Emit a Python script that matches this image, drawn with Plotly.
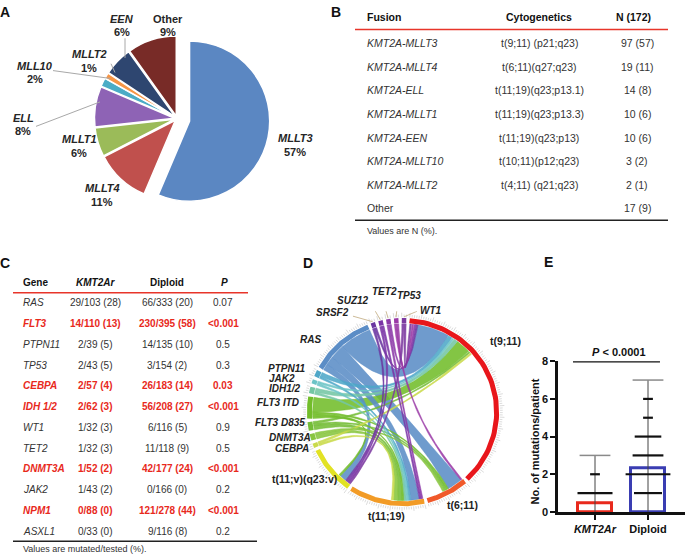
import numpy as np
import plotly.graph_objects as go

W, H = 685, 560
FONT = "Liberation Sans, Arial, Helvetica, sans-serif"

# ---------------- A: fusion partners ----------------
pie_labels = ["MLLT3", "MLLT4", "MLLT1", "ELL", "MLL10", "MLLT2", "EEN", "Other"]
pie_counts = [97, 19, 10, 14, 3, 2, 10, 17]
pie_pct = [57, 11, 6, 8, 2, 1, 6, 9]

# ---------------- B: fusion table ----------------
fusion_names = ["KMT2A-MLLT3", "KMT2A-MLLT4", "KMT2A-ELL", "KMT2A-MLLT1",
                "KMT2A-EEN", "KMT2A-MLLT10", "KMT2A-MLLT2", "Other"]
fusion_cyto = ["t(9;11) (p21;q23)", "t(6;11)(q27;q23)", "t(11;19)(q23;p13.1)",
               "t(11;19)(q23;p13.3)", "t(11;19)(q23;p13)", "t(10;11)(p12;q23)",
               "t(4;11) (q21;q23)", ""]
fusion_n = [97, 19, 14, 10, 10, 3, 2, 17]
fusion_pct = [57, 11, 8, 6, 6, 2, 1, 9]

# ---------------- C: mutation table ----------------
genes = ["RAS", "FLT3", "PTPN11", "TP53", "CEBPA", "IDH 1/2", "WT1", "TET2",
         "DNMT3A", "JAK2", "NPM1", "ASXL1"]
kmt_mut = [29, 14, 2, 2, 2, 2, 1, 1, 1, 1, 0, 0]
kmt_tested = [103, 110, 39, 43, 57, 62, 32, 32, 52, 43, 88, 33]
kmt_pct = [28, 13, 5, 5, 4, 3, 3, 3, 2, 2, 0, 0]
dip_mut = [66, 230, 14, 3, 26, 56, 6, 11, 42, 0, 121, 9]
dip_tested = [333, 395, 135, 154, 183, 208, 116, 118, 177, 166, 278, 116]
dip_pct = [20, 58, 10, 2, 14, 27, 5, 9, 24, 0, 44, 8]
p_values = ["0.07", "<0.001", "0.5", "0.3", "0.03", "<0.001", "0.9", "0.5",
            "<0.001", "0.2", "<0.001", "0.2"]

# ---------------- D: chord diagram ----------------
sector_names = ["t(9;11)", "t(6;11)", "t(11;19)", "t(11;v)(q23:v)",
                "CEBPA", "DNMT3A", "FLT3 D835", "FLT3 ITD", "IDH1/2", "JAK2",
                "PTPN11", "RAS", "SRSF2", "SUZ12", "TET2", "TP53", "WT1"]
sector_sizes = [97, 19, 34, 22, 2, 3, 4, 10, 3, 2, 3, 29, 2, 2, 2, 2, 2]
chord_mut = ["RAS", "RAS", "RAS", "RAS",
             "FLT3 ITD", "FLT3 ITD", "FLT3 ITD", "FLT3 ITD",
             "FLT3 D835", "FLT3 D835", "FLT3 D835",
             "IDH1/2", "IDH1/2", "PTPN11", "PTPN11", "JAK2", "JAK2",
             "CEBPA", "CEBPA", "DNMT3A", "DNMT3A",
             "SRSF2", "SRSF2", "SUZ12", "SUZ12", "TET2", "TET2",
             "TP53", "TP53", "WT1", "WT1"]
chord_cyto = ["t(9;11)", "t(6;11)", "t(11;19)", "t(11;v)(q23:v)",
              "t(9;11)", "t(6;11)", "t(11;19)", "t(11;v)(q23:v)",
              "t(9;11)", "t(6;11)", "t(11;19)",
              "t(9;11)", "t(11;19)", "t(9;11)", "t(11;19)", "t(9;11)", "t(11;19)",
              "t(9;11)", "t(11;19)", "t(6;11)", "t(11;19)",
              "t(11;v)(q23:v)", "t(9;11)", "t(11;v)(q23:v)", "t(11;19)",
              "t(11;19)", "t(9;11)", "t(6;11)", "t(9;11)",
              "t(11;v)(q23:v)", "t(9;11)"]
chord_n = [15, 7, 4, 3,
           7, 1, 1, 1,
           1, 1, 2,
           2, 1, 2, 1, 1, 1,
           1, 1, 1, 2,
           1, 1, 1, 1, 1, 1,
           1, 1, 1, 1]

# ---------------- E: mutations per patient ----------------
groups = ["KMT2Ar", "Diploid"]
group_mean = [0.47, 2.3]
group_max = [3, 7]
kmt_levels = [3, 2, 1]
dip_levels = [7, 6, 5, 4, 3, 2, 1]
p_label = "P < 0.0001"
y_ticks = [0, 2, 4, 6, 8]


# ================= helpers =================
def px(x):
    return x / W


def py(y):
    return 1 - y / H


def fnt(size=10, color="#333333", bold=False, italic=False):
    return dict(family=FONT, size=size, color=color,
                weight="bold" if bold else "normal",
                style="italic" if italic else "normal")


annotations = []
shapes = []


def ann(text, x, y, size=10, color="#333333", bold=False, italic=False,
        xanchor="center", angle=0):
    annotations.append(dict(text=text, x=px(x), y=py(y), xref="paper", yref="paper",
                            xanchor=xanchor, yanchor="middle", showarrow=False,
                            textangle=angle, font=fnt(size, color, bold, italic)))


def hline(x0, x1, y, color, width):
    shapes.append(dict(type="line", xref="paper", yref="paper", x0=px(x0), x1=px(x1),
                       y0=py(y), y1=py(y), line=dict(color=color, width=width)))


def pline(x0, y0, x1, y1, color, width):
    shapes.append(dict(type="line", xref="paper", yref="paper", x0=px(x0), x1=px(x1),
                       y0=py(y0), y1=py(y1), line=dict(color=color, width=width)))


fig = go.Figure()

# ================= Panel A =================
pie_colors = ["#5B87C2", "#C0504D", "#9BBB59", "#8E63B5", "#4BACC6", "#F79646",
              "#2E4670", "#782B27"]
pulls = [0.16, 0.03, 0.03, 0.03, 0.03, 0.03, 0.03, 0.03]
cx, cy, half = 177, 115, 95
fig.add_trace(go.Pie(values=pie_counts, labels=pie_labels, sort=False,
                     direction="clockwise", rotation=0, pull=pulls,
                     marker=dict(colors=pie_colors, line=dict(color="white", width=1.5)),
                     textinfo="none", hoverinfo="skip", showlegend=False,
                     domain=dict(x=[px(cx - half), px(cx + half)],
                                 y=[py(cy + half), py(cy - half)])))
pie_label_pos = {"MLLT3": (295, 135), "MLLT4": (102, 186), "MLLT1": (79, 136),
                 "ELL": (23, 114), "MLL10": (35, 61), "MLLT2": (89, 49),
                 "EEN": (122, 13), "Other": (168, 13)}
for lab, pct in zip(pie_labels, pie_pct):
    x, y = pie_label_pos[lab]
    ann(lab, x, y, size=11, color="#262626", bold=True, italic=(lab != "Other"))
    ann(f"{pct}%", x, y + 14, size=11, color="#262626", bold=True)
lead = "#A8A8A8"
pline(36, 123, 100, 98, lead, 1)
pline(53, 66, 110, 74, lead, 1)
pline(111, 59, 115, 68, lead, 1)
pline(125, 33, 125, 53, lead, 1)

# ================= Panel B =================
hdr_y = 11
ann("Fusion", 365, hdr_y, size=10.5, color="#111111", bold=True, xanchor="left")
ann("Cytogenetics", 539, hdr_y, size=10.5, color="#111111", bold=True)
ann(f"N ({sum(fusion_n)})", 633, hdr_y, size=10.5, color="#111111", bold=True)
hline(355, 668, 24, "#E8352A", 1.5)
for i, (nm, cg, n, pc) in enumerate(zip(fusion_names, fusion_cyto, fusion_n, fusion_pct)):
    y = 38 + i * 24.1
    ann(nm, 365, y, size=10.5, italic=(nm != "Other"), xanchor="left")
    if cg:
        ann(cg, 539, y, size=10.5)
    ann(f"{n} ({pc})", 637, y, size=10.5)
hline(355, 668, 219, "#222222", 1.5)
ann("Values are N (%).", 365, 230, size=9, xanchor="left")

# ================= Panel C =================
ann("Gene", 21, 283, size=10, color="#111111", bold=True, xanchor="left")
ann("KMT2Ar", 95, 283, size=10, color="#111111", bold=True, italic=True)
ann("Diploid", 167, 283, size=10, color="#111111", bold=True)
ann("P", 224, 283, size=10, color="#111111", bold=True, italic=True)
hline(13, 248, 293, "#E8352A", 1.5)
RED = "#E8291C"
for i, g in enumerate(genes):
    y = 303.5 + i * 21.2
    pv = p_values[i]
    sig = pv.startswith("<") or float(pv) < 0.05
    col = RED if sig else "#333333"
    ann(g, 21, y, size=10, color=col, bold=sig, italic=True, xanchor="left")
    ann(f"{kmt_mut[i]}/{kmt_tested[i]} ({kmt_pct[i]})", 95, y, size=10, color=col, bold=sig)
    ann(f"{dip_mut[i]}/{dip_tested[i]} ({dip_pct[i]})", 167, y, size=10, color=col, bold=sig)
    ann(pv.replace("<", "&lt;"), 223, y, size=10, color=col, bold=sig)
hline(13, 257, 547, "#222222", 1.5)
ann("Values are mutated/tested (%).", 21, 555, size=9, xanchor="left")

# ================= Panel D (chord) =================
sector_colors = {"t(9;11)": "#E8161B", "t(6;11)": "#F0592A", "t(11;19)": "#F29B26",
                 "t(11;v)(q23:v)": "#E2E224",
                 "CEBPA": "#C9DA4B", "DNMT3A": "#88C53F", "FLT3 D835": "#74BD37",
                 "FLT3 ITD": "#72BD2A", "IDH1/2": "#74C6A4", "JAK2": "#6CC4C6",
                 "PTPN11": "#4FA7C8", "RAS": "#5B8DC6", "SRSF2": "#6A36A0",
                 "SUZ12": "#7A34A6", "TET2": "#8C3AA8", "TP53": "#9A3AA6", "WT1": "#7C3AA0"}
gap, start_angle = 2.0, 4.0
dpu = (360 - gap * len(sector_sizes)) / sum(sector_sizes)
sec_start = {}
a = start_angle
for nm, sz in zip(sector_names, sector_sizes):
    sec_start[nm] = a
    a += sz * dpu + gap
sec_size = dict(zip(sector_names, sector_sizes))
cyto_secs = sector_names[:4]
mut_secs = sector_names[4:]


def xy(theta, r):
    t = np.radians(theta)
    return r * np.sin(t), r * np.cos(t)


def arc(a1, a2, r, n=40):
    th = np.linspace(a1, a2, n)
    return xy(th, r)


def bez(p0, p2, n=40):
    t = np.linspace(0, 1, n)[:, None]
    pts = (1 - t) ** 2 * np.array(p0) + t ** 2 * np.array(p2)
    return pts[:, 0], pts[:, 1]


lookup = {(m, c): n for m, c, n in zip(chord_mut, chord_cyto, chord_n)}
cursor = dict(sec_start)
mut_end, cyto_end = {}, {}
for m in mut_secs:
    for c in reversed(cyto_secs):
        n = lookup.get((m, c))
        if n:
            mut_end[(m, c)] = (cursor[m], cursor[m] + n * dpu)
            cursor[m] += n * dpu
for c in cyto_secs:
    for m in reversed(mut_secs):
        n = lookup.get((m, c))
        if n:
            cyto_end[(m, c)] = (cursor[c], cursor[c] + n * dpu)
            cursor[c] += n * dpu

R_IN = 0.965


def hex_rgba(h, al):
    h = h.lstrip("#")
    return f"rgba({int(h[0:2], 16)},{int(h[2:4], 16)},{int(h[4:6], 16)},{al})"


order = sorted(range(len(chord_n)), key=lambda k: -chord_n[k])
for k in order:
    m, c = chord_mut[k], chord_cyto[k]
    a1, a2 = mut_end[(m, c)]
    b1, b2 = cyto_end[(m, c)]
    x1, y1 = arc(a1, a2, R_IN)
    x2, y2 = bez(xy(a2, R_IN), xy(b1, R_IN))
    x3, y3 = arc(b1, b2, R_IN)
    x4, y4 = bez(xy(b2, R_IN), xy(a1, R_IN))
    xs = np.concatenate([x1, x2, x3, x4])
    ys = np.concatenate([y1, y2, y3, y4])
    col = sector_colors[m]
    fig.add_trace(go.Scatter(x=xs, y=ys, mode="lines", fill="toself",
                             fillcolor=hex_rgba(col, 0.88),
                             line=dict(color=hex_rgba(col, 1.0), width=0.5),
                             hoverinfo="skip", showlegend=False,
                             xaxis="x2", yaxis="y2"))

# outer ticks
tx, ty = [], []
for nm in sector_names:
    for k in range(sec_size[nm] + 1):
        th = sec_start[nm] + k * dpu
        r2 = 1.085 if k % 5 == 0 else 1.065
        p0 = xy(th, 1.035)
        p1 = xy(th, r2)
        tx += [p0[0], p1[0], None]
        ty += [p0[1], p1[1], None]
fig.add_trace(go.Scatter(x=tx, y=ty, mode="lines", line=dict(color="#C4C4C4", width=0.6),
                         hoverinfo="skip", showlegend=False, xaxis="x2", yaxis="y2"))
# ring
for nm in sector_names:
    xa, ya = arc(sec_start[nm], sec_start[nm] + sec_size[nm] * dpu, 1.0, 60)
    fig.add_trace(go.Scatter(x=xa, y=ya, mode="lines",
                             line=dict(color=sector_colors[nm], width=5),
                             hoverinfo="skip", showlegend=False, xaxis="x2", yaxis="y2"))

DCX, DCY, DSC = 403, 415, 93.6


def to_d(xp, yp):
    return (xp - DCX) / DSC, (DCY - yp) / DSC


cyto_lab = {"t(9;11)": (488, 342, "left"), "t(6;11)": (462, 510, "center"),
            "t(11;19)": (387, 521, "center"), "t(11;v)(q23:v)": (339, 483, "right")}
for nm, (x, y, xa) in cyto_lab.items():
    ann(nm, x, y, size=10.5, color="#222222", bold=True, xanchor=xa)
mut_lab = {"CEBPA": (311, 452), "DNMT3A": (313, 441),
           "FLT3 D835": (307, 426), "FLT3 ITD": (301, 405),
           "IDH1/2": (303, 391), "JAK2": (297, 380.5),
           "PTPN11": (307, 370), "RAS": (323, 341),
           "SRSF2": (351, 313), "SUZ12": (371, 301)}
for nm, (x, y) in mut_lab.items():
    ann(nm, x, y, size=10, color="#222222", bold=True, italic=True, xanchor="right")
ann("TET2", 384, 292, size=10, color="#222222", bold=True, italic=True)
ann("TP53", 409, 296, size=10, color="#222222", bold=True, italic=True)
ann("WT1", 418, 311, size=10, color="#222222", bold=True, italic=True, xanchor="left")
leader_from = {"SRSF2": (353, 317), "SUZ12": (372, 306), "TET2": (382, 298),
               "TP53": (398, 301), "WT1": (417, 312)}
lx, ly = [], []
for nm, (x, y) in leader_from.items():
    p0 = to_d(x, y)
    p1 = xy(sec_start[nm] + sec_size[nm] * dpu / 2, 1.04)
    lx += [p0[0], p1[0], None]
    ly += [p0[1], p1[1], None]
fig.add_trace(go.Scatter(x=lx, y=ly, mode="lines", line=dict(color="#CDBB98", width=1),
                         hoverinfo="skip", showlegend=False, xaxis="x2", yaxis="y2"))

# ================= Panel E =================
bar_cols = ["#E8291C", "#3A3DB2"]
xi = [0, 1]
fig.add_trace(go.Bar(x=xi, y=group_mean, width=0.66,
                     marker=dict(color="rgba(0,0,0,0)", line=dict(color=bar_cols, width=3)),
                     hoverinfo="skip", showlegend=False, xaxis="x", yaxis="y"))
fig.add_trace(go.Scatter(x=[0, 0, None, 1, 1], y=[0, group_max[0], None, 0, group_max[1]],
                         mode="lines", line=dict(color="#444444", width=1),
                         hoverinfo="skip", showlegend=False, cliponaxis=False,
                         xaxis="x", yaxis="y"))
kmt_w = [22, 7, 25]
dip_w = [22, 7, 7, 19, 22, 32, 20]
for gi, (levels, widths) in enumerate([(kmt_levels, kmt_w), (dip_levels, dip_w)]):
    for lv, wd in zip(levels, widths):
        cap = lv == group_max[gi]
        fig.add_trace(go.Scatter(x=[xi[gi]], y=[lv], mode="markers",
                                 marker=dict(symbol="line-ew", size=wd,
                                             line=dict(color="#8A8A8A" if cap else "#111111",
                                                       width=1.5 if cap else 2.2)),
                                 hoverinfo="skip", showlegend=False, cliponaxis=False,
                                 xaxis="x", yaxis="y"))
shapes.append(dict(type="line", xref="x", yref="y", x0=-0.415, x1=1.226, y0=8, y1=8,
                   line=dict(color="#111111", width=2.5)))
ann("<i>P</i> &lt; 0.0001", 619, 354, size=11, color="#111111", bold=True)
ann("No. of mutations/patient", 535, 445, size=11, color="#111111", bold=True, angle=-90)

# panel letters
for L, (x, y) in {"A": (5, 6), "B": (336, 6), "C": (5, 263), "D": (308, 263),
                  "E": (548, 262)}.items():
    ann(L, x, y, size=14, color="#111111", bold=True)

fig.update_layout(
    width=W, height=H, margin=dict(l=0, r=0, t=0, b=0),
    paper_bgcolor="white", plot_bgcolor="rgba(0,0,0,0)",
    showlegend=False, bargap=0,
    annotations=annotations, shapes=shapes,
    xaxis=dict(domain=[558 / W, 1], range=[-0.698, 1.698], tickvals=xi,
               ticktext=["<b><i>KMT2Ar</i></b>", "<b>Diploid</b>"],
               ticks="outside", ticklen=5, tickwidth=2, tickcolor="#111111",
               showline=True, linewidth=2.5, linecolor="#111111",
               showgrid=False, zeroline=False, fixedrange=True,
               tickfont=dict(family=FONT, size=11, color="#111111")),
    yaxis=dict(domain=[py(517), py(363)], range=[0, 8], tickvals=y_ticks,
               ticks="outside", ticklen=5, tickwidth=2, tickcolor="#111111",
               showline=True, linewidth=2.5, linecolor="#111111",
               showgrid=False, zeroline=False, fixedrange=True,
               tickfont=dict(family=FONT, size=11, color="#111111", weight="bold")),
    xaxis2=dict(domain=[300 / W, 506 / W], range=[-1.1, 1.1], visible=False,
                fixedrange=True),
    yaxis2=dict(domain=[py(518), py(312)], range=[-1.1, 1.1], visible=False,
                fixedrange=True),
)

fig.write_html("out.html", config={"displayModeBar": False},
               post_script="document.body.style.margin='0';")
